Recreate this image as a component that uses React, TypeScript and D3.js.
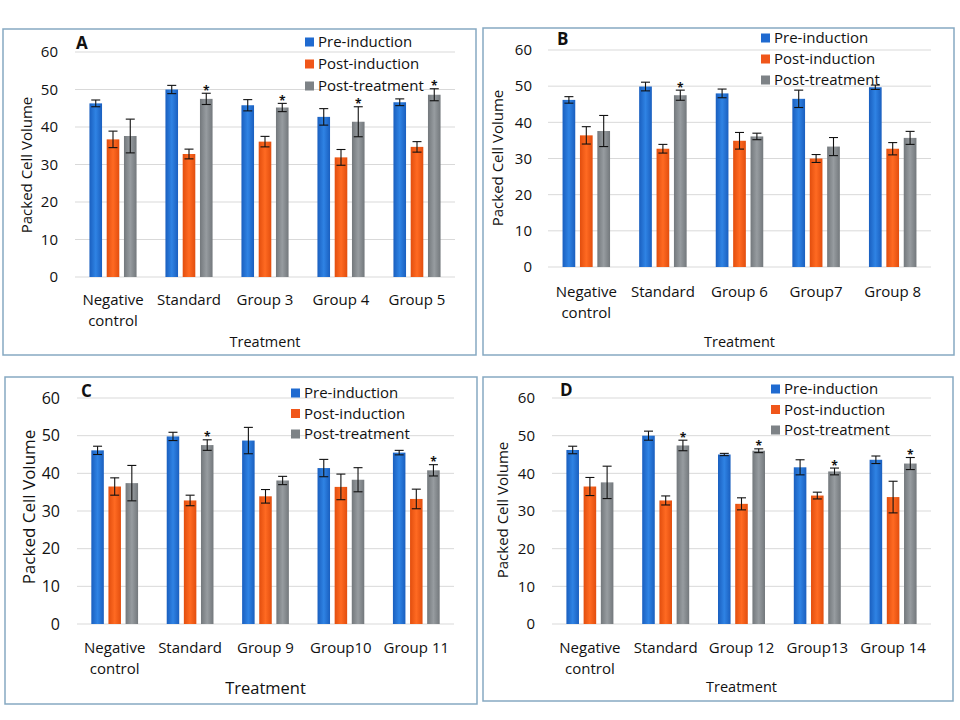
import React from "react";
import * as d3 from "d3";

const seriesNames = ["Pre-induction", "Post-induction", "Post-treatment"];
const yTicks = [0, 10, 20, 30, 40, 50, 60];

// panel A
const categoriesA = ["Negative control", "Standard", "Group 3", "Group 4", "Group 5"];
const preA = [46.3, 50.0, 45.8, 42.7, 46.6];
const preErrA = [0.9, 1.1, 1.5, 2.2, 0.9];
const postIndA = [36.7, 32.8, 36.1, 31.9, 34.7];
const postIndErrA = [2.2, 1.3, 1.4, 2.1, 1.4];
const postTrtA = [37.6, 47.5, 45.2, 41.4, 48.6];
const postTrtErrA = [4.5, 1.5, 1.1, 4.0, 1.6];
const starsA = [false, true, true, true, true];

// panel B
const categoriesB = ["Negative control", "Standard", "Group 6", "Group7", "Group 8"];
const preB = [46.2, 49.9, 48.0, 46.5, 49.7];
const preErrB = [0.9, 1.2, 1.2, 2.4, 0.6];
const postIndB = [36.4, 32.7, 34.9, 30.0, 32.7];
const postIndErrB = [2.4, 1.2, 2.3, 1.1, 1.7];
const postTrtB = [37.6, 47.5, 36.1, 33.3, 35.7];
const postTrtErrB = [4.3, 1.4, 0.9, 2.5, 1.8];
const starsB = [false, true, false, false, false];

// panel C
const categoriesC = ["Negative control", "Standard", "Group 9", "Group10", "Group 11"];
const preC = [46.1, 49.8, 48.7, 41.4, 45.5];
const preErrC = [1.1, 1.1, 3.5, 2.3, 0.6];
const postIndC = [36.5, 32.8, 33.9, 36.4, 33.2];
const postIndErrC = [2.3, 1.4, 1.8, 3.4, 2.6];
const postTrtC = [37.4, 47.5, 38.1, 38.3, 40.8];
const postTrtErrC = [4.7, 1.4, 1.1, 3.2, 1.5];
const starsC = [false, true, false, false, true];

// panel D
const categoriesD = ["Negative control", "Standard", "Group 12", "Group13", "Group 14"];
const preD = [46.2, 50.0, 45.0, 41.6, 43.6];
const preErrD = [1.0, 1.2, 0.3, 2.0, 1.0];
const postIndD = [36.5, 32.8, 31.9, 34.1, 33.7];
const postIndErrD = [2.4, 1.2, 1.6, 0.9, 4.2];
const postTrtD = [37.6, 47.4, 46.0, 40.5, 42.6];
const postTrtErrD = [4.3, 1.4, 0.5, 0.9, 1.6];
const starsD = [false, true, true, true, true];

const colors = [
  { id: "blue", edge: "#1a5fbf", mid: "#2f83e4", key: "#1f6ad0" },
  { id: "orange", edge: "#e24e0e", mid: "#ff6a22", key: "#f0561a" },
  { id: "gray", edge: "#73787c", mid: "#979ca0", key: "#7d8286" },
];

type Layout = {
  letter: string;
  box: [number, number, number, number];
  x0: number; x1: number; yTop: number; yBottom: number;
  tickX: number; yLabelX: number; yLabelY: number;
  catY: number; titleY: number; letterX: number; letterY: number;
  legX: number; legY: number; legGap: number;
  tickSize: number; yLabelSize: number; catSize: number; titleSize: number; legSize: number;
};

const panels = [
  {
    cats: categoriesA, vals: [preA, postIndA, postTrtA], errs: [preErrA, postIndErrA, postTrtErrA], stars: starsA,
    lay: { letter: "A", box: [3, 29, 473, 326], x0: 75, x1: 455, yTop: 52, yBottom: 277, tickX: 58, yLabelX: 27, yLabelY: 165,
      catY: 305, titleY: 347, letterX: 76, letterY: 49, legX: 305, legY: 42, legGap: 22,
      tickSize: 15, yLabelSize: 15, catSize: 15, titleSize: 14.5, legSize: 15 } as Layout,
  },
  {
    cats: categoriesB, vals: [preB, postIndB, postTrtB], errs: [preErrB, postIndErrB, postTrtErrB], stars: starsB,
    lay: { letter: "B", box: [483, 28, 471, 327], x0: 548, x1: 931, yTop: 50, yBottom: 267, tickX: 532, yLabelX: 498, yLabelY: 158,
      catY: 297, titleY: 347, letterX: 557, letterY: 45, legX: 761, legY: 38, legGap: 21,
      tickSize: 15, yLabelSize: 15, catSize: 15, titleSize: 14.5, legSize: 15 } as Layout,
  },
  {
    cats: categoriesC, vals: [preC, postIndC, postTrtC], errs: [preErrC, postIndErrC, postTrtErrC], stars: starsC,
    lay: { letter: "C", box: [5, 377, 472, 327], x0: 77, x1: 454, yTop: 398, yBottom: 624, tickX: 60, yLabelX: 29, yLabelY: 507,
      catY: 653, titleY: 694, letterX: 81, letterY: 397, legX: 291, legY: 393, legGap: 20.5,
      tickSize: 16, yLabelSize: 17, catSize: 15, titleSize: 16.5, legSize: 15 } as Layout,
  },
  {
    cats: categoriesD, vals: [preD, postIndD, postTrtD], errs: [preErrD, postIndErrD, postTrtErrD], stars: starsD,
    lay: { letter: "D", box: [483, 377, 470, 324], x0: 552, x1: 931, yTop: 398, yBottom: 624, tickX: 535, yLabelX: 503, yLabelY: 510,
      catY: 653, titleY: 692, letterX: 560, letterY: 396, legX: 771, legY: 389, legGap: 20.5,
      tickSize: 15, yLabelSize: 15, catSize: 15, titleSize: 14.5, legSize: 15 } as Layout,
  },
];

const FONT = "'Open Sans', 'Noto Sans', sans-serif";

const Panel = ({ p }: { p: (typeof panels)[number] }) => {
  const L = p.lay;
  const x = d3.scaleBand<string>().domain(p.cats).range([L.x0, L.x1]).paddingInner(0.38).paddingOuter(0.19);
  const xs = d3.scaleBand<number>().domain([0, 1, 2]).range([0, x.bandwidth()]).paddingInner(0.27);
  const y = d3.scaleLinear().domain([0, 60]).range([L.yBottom, L.yTop]);
  const bw = xs.bandwidth();

  return (
    <g fontFamily={FONT}>
      <rect x={L.box[0]} y={L.box[1]} width={L.box[2]} height={L.box[3]} fill="white" stroke="#86a9c2" strokeWidth={1.5} />
      {yTicks.map((t) => (
        <g key={t}>
          <line x1={L.x0} x2={L.x1} y1={y(t)} y2={y(t)} stroke="#d9d9d9" strokeWidth={1} />
          <text x={L.tickX} y={y(t)} dy="0.35em" textAnchor="end" fontSize={L.tickSize} fill="#111">{t}</text>
        </g>
      ))}
      {p.cats.map((c, i) => (
        <g key={c}>
          {p.vals.map((vals, s) => {
            const bx = (x(c) as number) + (xs(s) as number);
            const v = vals[i];
            const e = p.errs[s][i];
            const cx = bx + bw / 2;
            return (
              <g key={s}>
                <rect x={bx} y={y(v)} width={bw} height={y(0) - y(v)} fill={`url(#grad-${colors[s].id})`} />
                <line x1={cx} x2={cx} y1={y(v + e)} y2={y(v - e)} stroke="#111" strokeWidth={1.1} />
                <line x1={cx - 4.5} x2={cx + 4.5} y1={y(v + e)} y2={y(v + e)} stroke="#111" strokeWidth={1.1} />
                <line x1={cx - 4.5} x2={cx + 4.5} y1={y(v - e)} y2={y(v - e)} stroke="#111" strokeWidth={1.1} />
                {s === 2 && p.stars[i] && (
                  <text x={cx} y={y(v + e) + 1.5} textAnchor="middle" fontSize={12} fontWeight="bold" fill="#111">*</text>
                )}
              </g>
            );
          })}
          {c.startsWith("Negative") ? (
            <text x={(x(c) as number) + x.bandwidth() / 2} y={L.catY} textAnchor="middle" fontSize={L.catSize} fill="#111">
              <tspan x={(x(c) as number) + x.bandwidth() / 2}>Negative</tspan>
              <tspan x={(x(c) as number) + x.bandwidth() / 2} dy="1.4em">control</tspan>
            </text>
          ) : (
            <text x={(x(c) as number) + x.bandwidth() / 2} y={L.catY} textAnchor="middle" fontSize={L.catSize} fill="#111">{c}</text>
          )}
        </g>
      ))}
      <text x={(L.x0 + L.x1) / 2} y={L.titleY} textAnchor="middle" fontSize={L.titleSize} fill="#111">Treatment</text>
      <text transform={`translate(${L.yLabelX},${L.yLabelY}) rotate(-90)`} textAnchor="middle" dy="0.35em" fontSize={L.yLabelSize} fill="#111">
        Packed Cell Volume
      </text>
      <text x={L.letterX} y={L.letterY} fontSize={17} fontWeight="bold" fill="#111">{L.letter}</text>
      {seriesNames.map((n, s) => (
        <g key={n}>
          <rect x={L.legX} y={L.legY + s * L.legGap - 4.5} width={9} height={9} fill={colors[s].key} />
          <text x={L.legX + 13} y={L.legY + s * L.legGap} dy="0.35em" fontSize={L.legSize} fill="#111">{n}</text>
        </g>
      ))}
    </g>
  );
};

export default function App() {
  return (
    <svg width={960} height={720} style={{ position: "absolute", left: 0, top: 0, background: "white" }}>
      <defs>
        {colors.map((c) => (
          <linearGradient key={c.id} id={`grad-${c.id}`} x1="0" x2="1" y1="0" y2="0">
            <stop offset="0%" stopColor={c.edge} />
            <stop offset="50%" stopColor={c.mid} />
            <stop offset="100%" stopColor={c.edge} />
          </linearGradient>
        ))}
      </defs>
      <rect width={960} height={720} fill="white" />
      {panels.map((p) => (
        <Panel key={p.lay.letter} p={p} />
      ))}
    </svg>
  );
}
